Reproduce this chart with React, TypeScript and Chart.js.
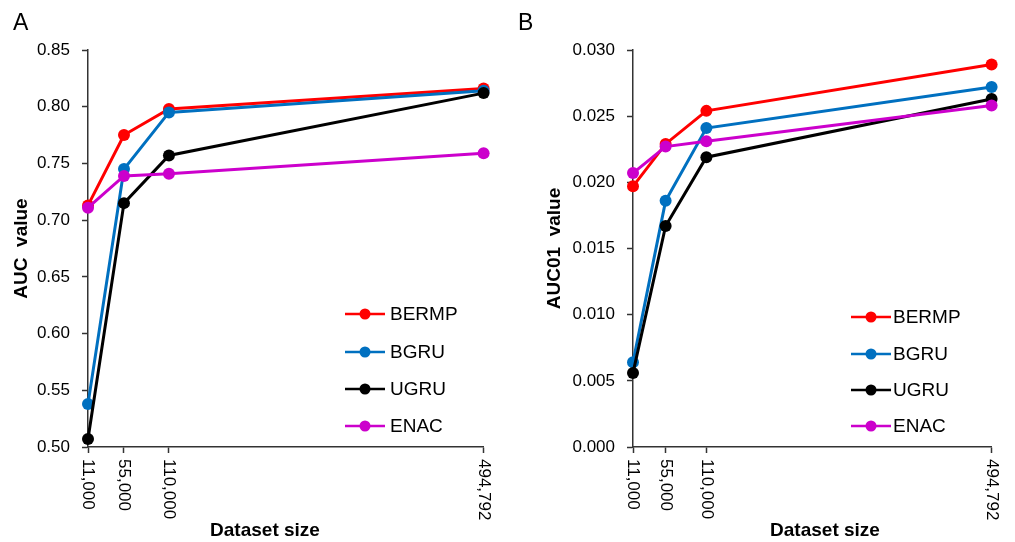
import React, { useEffect, useRef } from "react";
import { Chart, registerables } from "chart.js";

Chart.register(...registerables);

const seriesNames = ["BERMP", "BGRU", "UGRU", "ENAC"];
const seriesColors = ["#FF0000", "#0070C0", "#000000", "#CC00CC"];
const datasetSizes = [11000, 55000, 110000, 494792];
const xTickLabels = ["11,000", "55,000", "110,000", "494,792"];

const aucBERMP = [0.713, 0.775, 0.798, 0.816];
const aucBGRU = [0.538, 0.745, 0.795, 0.814];
const aucUGRU = [0.507, 0.715, 0.757, 0.812];
const aucENAC = [0.711, 0.739, 0.741, 0.759];

const auc01BERMP = [0.0197, 0.0229, 0.0254, 0.0289];
const auc01BGRU = [0.0064, 0.0186, 0.0241, 0.0272];
const auc01UGRU = [0.0056, 0.0167, 0.0219, 0.0263];
const auc01ENAC = [0.0207, 0.0227, 0.0231, 0.0258];

const FONT = "'Liberation Sans', Arial, sans-serif";
const AXIS_COLOR = "#333333";

type PanelCfg = {
  letter: string;
  yTitle: string;
  series: number[][];
  yMin: number;
  yMax: number;
  yStep: number;
  decimals: number;
  width: number;
  plotLeft: number;
  plotRight: number;
  yTitleX: number;
  letterX: number;
  xTitleX: number;
  legendX: number;
  legendTextX: number;
  legendYs: number[];
};

const H = 542;
const PLOT_TOP = 50;
const PLOT_BOTTOM = 447;

function Panel({ cfg, left }: { cfg: PanelCfg; left: number }) {
  const ref = useRef<HTMLCanvasElement | null>(null);
  useEffect(() => {
    if (!ref.current) return;
    const overlay = {
      id: "overlay",
      afterDraw(chart: any) {
        const ctx = chart.ctx as CanvasRenderingContext2D;
        const area = chart.chartArea;
        const xs = chart.scales.x;
        ctx.save();
        // panel letter
        ctx.fillStyle = "#000";
        ctx.font = `23px ${FONT}`;
        ctx.textAlign = "left";
        ctx.textBaseline = "alphabetic";
        ctx.fillText(cfg.letter, cfg.letterX, 30);
        // x tick labels rotated clockwise
        ctx.font = `17px ${FONT}`;
        datasetSizes.forEach((v, i) => {
          const px = xs.getPixelForValue(v);
          ctx.save();
          ctx.translate(px, area.bottom + 12);
          ctx.rotate(Math.PI / 2);
          ctx.textAlign = "left";
          ctx.textBaseline = "middle";
          ctx.fillText(xTickLabels[i], 0, 0);
          ctx.restore();
        });
        // x title
        ctx.font = `bold 19px ${FONT}`;
        ctx.textAlign = "center";
        ctx.textBaseline = "middle";
        ctx.fillText("Dataset size", cfg.xTitleX, 531);
        // y title
        ctx.save();
        ctx.translate(cfg.yTitleX, (area.top + area.bottom) / 2);
        ctx.rotate(-Math.PI / 2);
        ctx.textAlign = "center";
        ctx.textBaseline = "middle";
        ctx.fillText(cfg.yTitle, 0, 0);
        ctx.restore();
        // legend
        ctx.font = `19px ${FONT}`;
        seriesNames.forEach((name, i) => {
          const y = cfg.legendYs[i];
          ctx.strokeStyle = seriesColors[i];
          ctx.lineWidth = 2.5;
          ctx.beginPath();
          ctx.moveTo(cfg.legendX, y);
          ctx.lineTo(cfg.legendX + 40, y);
          ctx.stroke();
          ctx.fillStyle = seriesColors[i];
          ctx.beginPath();
          ctx.arc(cfg.legendX + 20, y, 5.5, 0, Math.PI * 2);
          ctx.fill();
          ctx.fillStyle = "#000";
          ctx.textAlign = "left";
          ctx.textBaseline = "middle";
          ctx.fillText(name, cfg.legendTextX, y + 1);
        });
        ctx.restore();
      },
    };

    const chart = new Chart(ref.current, {
      type: "line",
      data: {
        datasets: cfg.series.map((vals, i) => ({
          label: seriesNames[i],
          data: datasetSizes.map((x, j) => ({ x, y: vals[j] })),
          borderColor: seriesColors[i],
          backgroundColor: seriesColors[i],
          borderWidth: 3,
          pointRadius: 6,
          pointBorderWidth: 0,
          pointBackgroundColor: seriesColors[i],
          tension: 0,
          clip: false as any,
          order: 4 - i,
        })),
      },
      options: {
        animation: false,
        responsive: false,
        events: [],
        layout: {
          padding: { left: 0, top: PLOT_TOP, right: cfg.width - cfg.plotRight, bottom: 0 },
        },
        plugins: {
          legend: { display: false },
          tooltip: { enabled: false },
          title: { display: false },
        },
        scales: {
          x: {
            type: "linear",
            min: datasetSizes[0],
            max: datasetSizes[datasetSizes.length - 1],
            afterBuildTicks: (s: any) => {
              s.ticks = datasetSizes.map((v) => ({ value: v }));
            },
            afterFit: (s: any) => {
              s.height = H - PLOT_BOTTOM;
            },
            ticks: {
              color: "rgba(0,0,0,0)",
              minRotation: 90,
              maxRotation: 90,
              autoSkip: false,
              font: { size: 17, family: FONT },
            },
            grid: {
              drawOnChartArea: false,
              drawTicks: true,
              tickLength: 6,
              tickColor: AXIS_COLOR,
              tickWidth: 1.5,
            },
            border: { color: AXIS_COLOR, width: 1.5 },
          },
          y: {
            type: "linear",
            min: cfg.yMin,
            max: cfg.yMax,
            afterFit: (s: any) => {
              s.width = cfg.plotLeft;
            },
            ticks: {
              stepSize: cfg.yStep,
              color: "#000",
              padding: 12,
              font: { size: 17, family: FONT },
              callback: (v: any) => Number(v).toFixed(cfg.decimals),
            },
            grid: {
              drawOnChartArea: false,
              drawTicks: true,
              tickLength: 6,
              tickColor: AXIS_COLOR,
              tickWidth: 1.5,
            },
            border: { color: AXIS_COLOR, width: 1.5 },
          },
        },
      } as any,
      plugins: [overlay],
    });
    return () => chart.destroy();
  }, [cfg]);
  return (
    <div style={{ position: "absolute", left, top: 0, width: cfg.width, height: H }}>
      <canvas ref={ref} width={cfg.width} height={H} style={{ width: cfg.width, height: H, display: "block" }} />
    </div>
  );
}

const panelA: PanelCfg = {
  letter: "A",
  yTitle: "AUC  value",
  series: [aucBERMP, aucBGRU, aucUGRU, aucENAC],
  yMin: 0.5,
  yMax: 0.85,
  yStep: 0.05,
  decimals: 2,
  width: 507,
  plotLeft: 88,
  plotRight: 487,
  yTitleX: 22,
  letterX: 13,
  xTitleX: 265,
  legendX: 345,
  legendTextX: 390,
  legendYs: [314, 352, 389, 426],
};

const panelB: PanelCfg = {
  letter: "B",
  yTitle: "AUC01  value",
  series: [auc01BERMP, auc01BGRU, auc01UGRU, auc01ENAC],
  yMin: 0,
  yMax: 0.03,
  yStep: 0.005,
  decimals: 3,
  width: 508,
  plotLeft: 126,
  plotRight: 501,
  yTitleX: 48,
  letterX: 11,
  xTitleX: 318,
  legendX: 344,
  legendTextX: 386,
  legendYs: [317, 354, 390, 426],
};

export default function App() {
  return (
    <div style={{ position: "absolute", left: 0, top: 0, width: 1015, height: H, background: "#fff" }}>
      <Panel cfg={panelA} left={0} />
      <Panel cfg={panelB} left={507} />
    </div>
  );
}
